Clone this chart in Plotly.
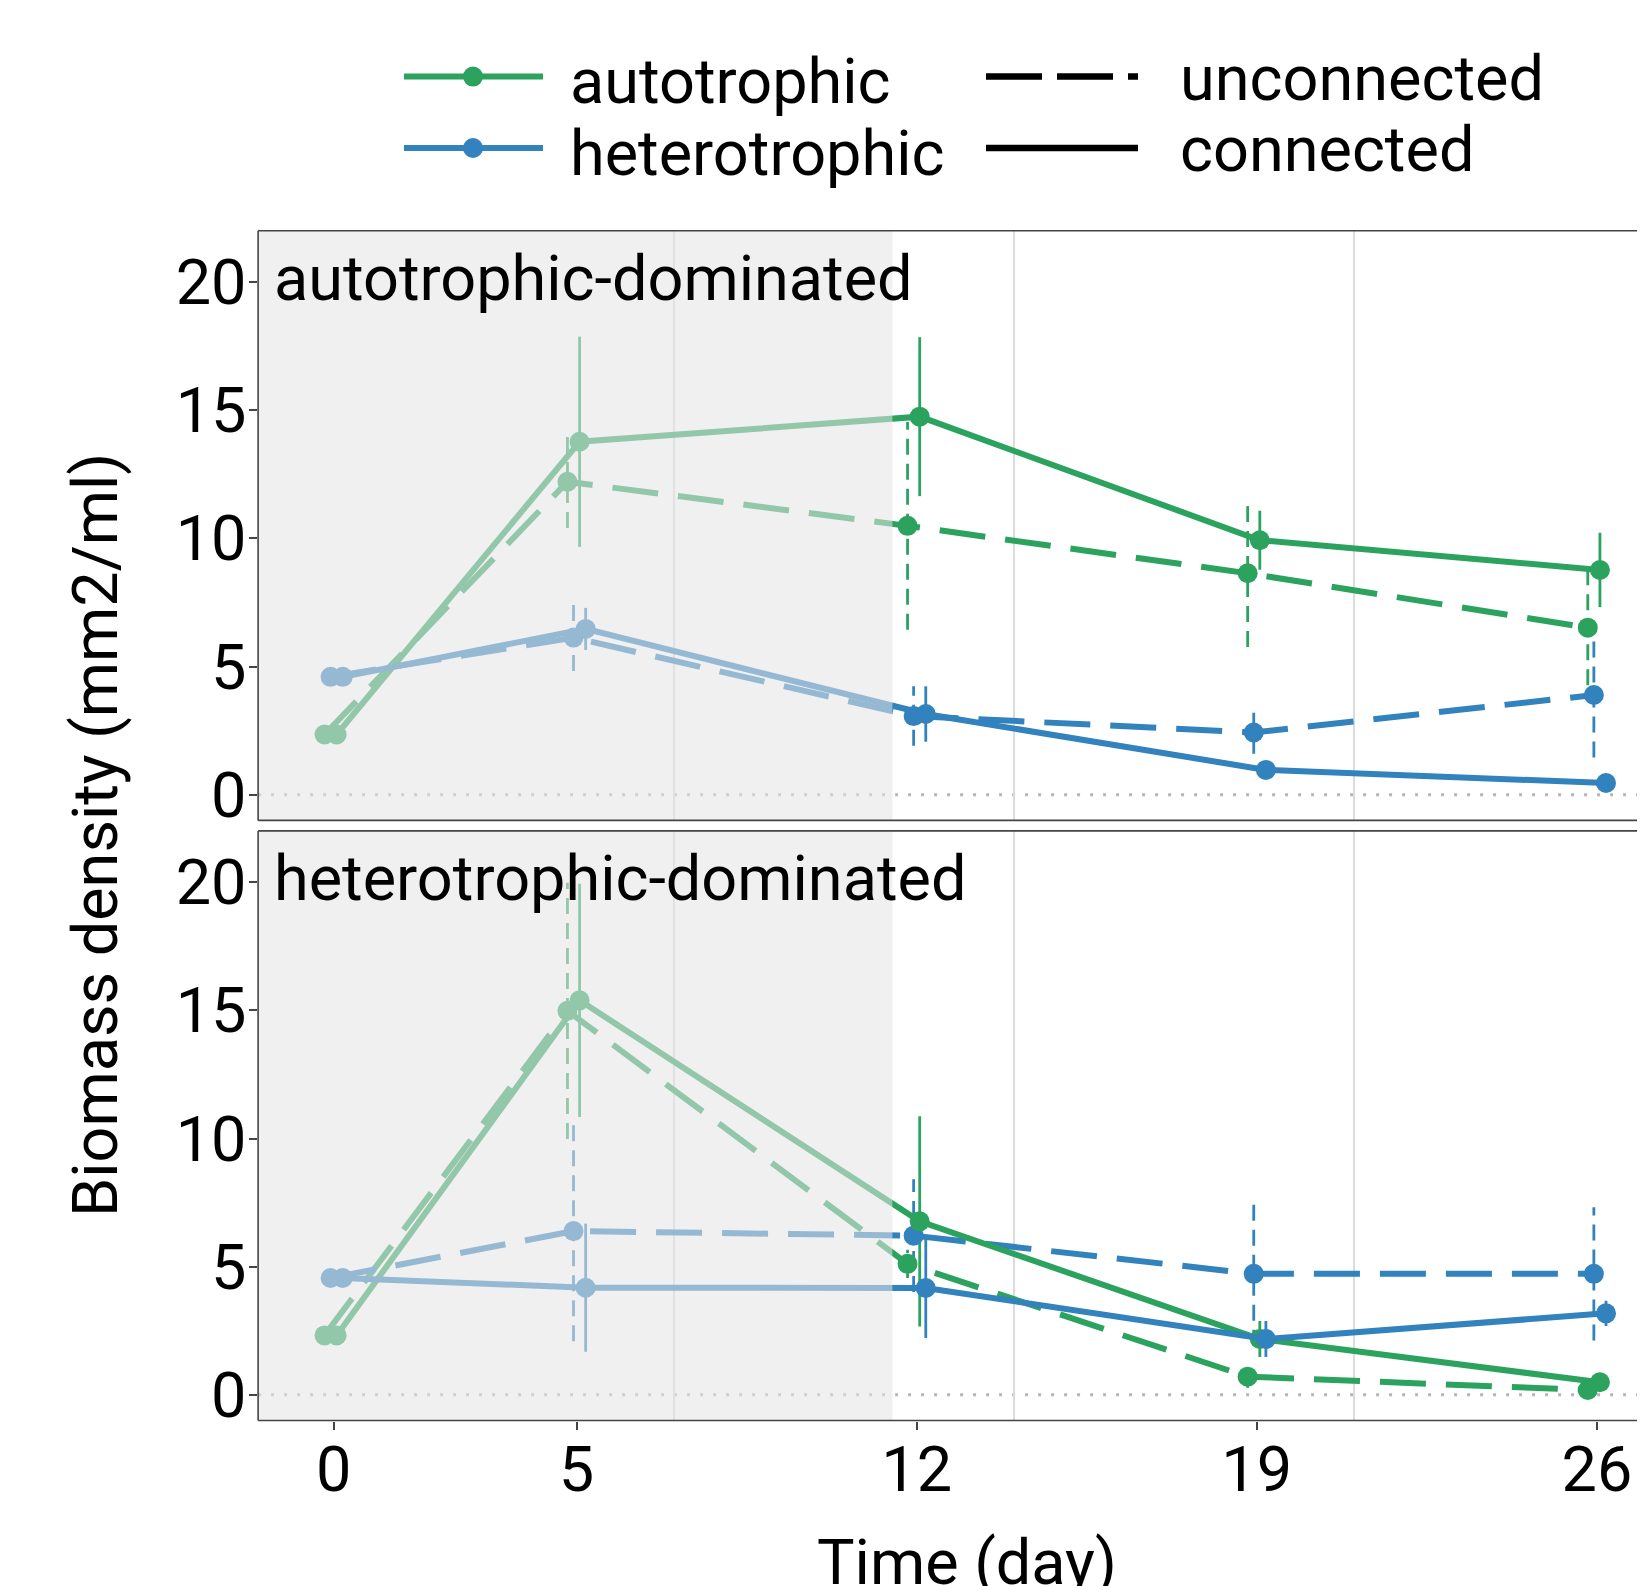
import plotly.graph_objects as go

# browser body margin is 8px, so the figure is sized to fit the window
PAGE_W, PAGE_H = 1645, 1586
BODY = 8
W, H = PAGE_W - BODY, PAGE_H - BODY

# ---------------- data ----------------
DAYS = [0, 5, 12, 19, 26]
X_TICKS = [0, 5, 12, 19, 26]
WEEK_LINES = [7, 14, 21]
Y_TICKS = [0, 5, 10, 15, 20]
SHADE_END = 11.5
PANELS = ["autotrophic-dominated", "heterotrophic-dominated"]

# autotrophic-dominated panel (mean, error half-width)
ad_auto_unconn = [2.35, 12.21, 10.49, 8.64, 6.52]
ad_auto_unconn_err = [0, 1.8, 4.05, 2.88, 2.25]
ad_het_unconn = [4.6, 6.13, 3.07, 2.43, 3.89]
ad_het_unconn_err = [0, 1.3, 1.16, 0.83, 2.44]
ad_auto_conn = [2.35, 13.77, 14.75, 9.93, 8.77]
ad_auto_conn_err = [0, 4.1, 3.1, 1.15, 1.45]
ad_het_conn = [4.6, 6.47, 3.15, 0.97, 0.46]
ad_het_conn_err = [0, 0.82, 1.08, 0.15, 0.1]

# heterotrophic-dominated panel
hd_auto_unconn = [2.32, 14.98, 5.11, 0.71, 0.19]
hd_auto_unconn_err = [0, 5.0, 0.55, 0.43, 0.15]
hd_het_unconn = [4.56, 6.39, 6.21, 4.72, 4.72]
hd_het_unconn_err = [0, 4.3, 2.2, 2.8, 2.6]
hd_auto_conn = [2.32, 15.39, 6.77, 2.18, 0.49]
hd_auto_conn_err = [0, 4.55, 4.1, 0.7, 0.1]
hd_het_conn = [4.56, 4.18, 4.17, 2.18, 3.18]
hd_het_conn_err = [0, 2.5, 1.95, 0.7, 0.49]

GROUPS = [("autotrophic", "unconnected"), ("heterotrophic", "unconnected"),
          ("autotrophic", "connected"), ("heterotrophic", "connected")]
PANEL_DATA = [
    [(ad_auto_unconn, ad_auto_unconn_err), (ad_het_unconn, ad_het_unconn_err),
     (ad_auto_conn, ad_auto_conn_err), (ad_het_conn, ad_het_conn_err)],
    [(hd_auto_unconn, hd_auto_unconn_err), (hd_het_unconn, hd_het_unconn_err),
     (hd_auto_conn, hd_auto_conn_err), (hd_het_conn, hd_het_conn_err)],
]

# ---------------- style ----------------
COLORS = {"autotrophic": "#2CA25F", "heterotrophic": "#3182BD"}
LINE_DASH = {"unconnected": "46px,20px", "connected": "solid"}
ERR_DASH = {"unconnected": "16px,9px", "connected": "solid"}
DODGE = 0.5
FONT = "Roboto"
FS = 63
X_RANGE = [-1.554, 26.99]
Y_RANGE = [-1.0, 22.0]


def X(px):  # page pixel -> paper fraction
    return (px - BODY) / W


def Y(py):
    return 1 - (py - BODY) / H


panel_px = [(230.8, 820.4), (830.9, 1420.5)]
x_dom = [X(258.1), 1.0]

fig = go.Figure()

for p, rows in enumerate(PANEL_DATA):
    xa = "x" if p == 0 else "x2"
    ya = "y" if p == 0 else "y2"
    for g, ((kind, conn), (mean, err)) in enumerate(zip(GROUPS, rows)):
        off = (g - (len(GROUPS) - 1) / 2) * DODGE / len(GROUPS)
        xs = [d + off for d in DAYS]
        col = COLORS[kind]
        ex, ey = [], []
        for xi, m, e in zip(xs, mean, err):
            if e > 0:
                ex += [xi, xi, None]
                ey += [m - e, m + e, None]
        fig.add_trace(go.Scatter(x=ex, y=ey, mode="lines", xaxis=xa, yaxis=ya,
                                 line=dict(color=col, width=2.8, dash=ERR_DASH[conn]),
                                 showlegend=False, hoverinfo="skip"))
    for g, ((kind, conn), (mean, err)) in enumerate(zip(GROUPS, rows)):
        off = (g - (len(GROUPS) - 1) / 2) * DODGE / len(GROUPS)
        xs = [d + off for d in DAYS]
        col = COLORS[kind]
        fig.add_trace(go.Scatter(x=xs, y=mean, mode="lines+markers", xaxis=xa, yaxis=ya,
                                 line=dict(color=col, width=6, dash=LINE_DASH[conn]),
                                 marker=dict(color=col, size=20),
                                 name=f"{kind} {conn}", showlegend=False))

shapes = []
for p in range(2):
    xa = "x" if p == 0 else "x2"
    ya = "y" if p == 0 else "y2"
    shapes.append(dict(type="line", xref=f"{xa} domain", yref=ya, x0=0, x1=1, y0=0, y1=0,
                       line=dict(color="#B5B5B5", width=3, dash="3px,10px"), layer="below"))
for p in range(2):
    xa = "x" if p == 0 else "x2"
    ya = "y" if p == 0 else "y2"
    shapes.append(dict(type="rect", xref=xa, yref=f"{ya} domain", x0=X_RANGE[0], x1=SHADE_END,
                       y0=0, y1=1, fillcolor="rgba(228,228,228,0.56)", line=dict(width=0),
                       layer="above"))
BORDER = dict(color="#444444", width=1.6)
for (t, b) in panel_px:
    for (x0, x1, y0, y1) in [(x_dom[0], 1.02, Y(t), Y(t)), (x_dom[0], 1.02, Y(b), Y(b)),
                             (x_dom[0], x_dom[0], Y(b), Y(t))]:
        shapes.append(dict(type="line", xref="paper", yref="paper", x0=x0, x1=x1,
                           y0=y0, y1=y1, line=BORDER, layer="above"))

# manual legend keys
LEG_ROWS = [76.6, 148.0]
kinds = ["autotrophic", "heterotrophic"]
conns = ["unconnected", "connected"]
for i, k in enumerate(kinds):
    yy = Y(LEG_ROWS[i])
    shapes.append(dict(type="line", xref="paper", yref="paper", x0=X(404), x1=X(543),
                       y0=yy, y1=yy, line=dict(color=COLORS[k], width=6)))
    shapes.append(dict(type="circle", xref="paper", yref="paper", x0=X(473 - 10), x1=X(473 + 10),
                       y0=Y(LEG_ROWS[i] + 10), y1=Y(LEG_ROWS[i] - 10),
                       fillcolor=COLORS[k], line=dict(width=0)))
for i, c in enumerate(conns):
    yy = Y(LEG_ROWS[i])
    shapes.append(dict(type="line", xref="paper", yref="paper", x0=X(986), x1=X(1138),
                       y0=yy, y1=yy, line=dict(color="black", width=6.5,
                                               dash="56px,15px" if c == "unconnected" else "solid")))

annotations = []
for i, k in enumerate(kinds):
    annotations.append(dict(text=k, xref="paper", yref="paper", x=X(568), y=Y(LEG_ROWS[i] + 5),
                            xanchor="left", yanchor="middle", showarrow=False,
                            font=dict(family=FONT, size=FS, color="black")))
for i, c in enumerate(conns):
    annotations.append(dict(text=c, xref="paper", yref="paper", x=X(1178), y=Y(LEG_ROWS[i] + 2),
                            xanchor="left", yanchor="middle", showarrow=False,
                            font=dict(family=FONT, size=FS, color="black")))
for p, name in enumerate(PANELS):
    top = panel_px[p][0]
    annotations.append(dict(text=name, xref="paper", yref="paper", x=X(272), y=Y(top + 9),
                            xanchor="left", yanchor="top", showarrow=False,
                            font=dict(family=FONT, size=FS, color="black")))
annotations.append(dict(text="Time (day)", xref="paper", yref="paper", x=X(967), y=Y(1524),
                        xanchor="center", yanchor="top", showarrow=False,
                        font=dict(family=FONT, size=FS, color="black")))
annotations.append(dict(text="Biomass density (mm2/ml)", xref="paper", yref="paper",
                        x=X(95), y=Y(835), xanchor="center", yanchor="middle", textangle=-90,
                        showarrow=False, font=dict(family=FONT, size=FS, color="black")))

xcommon = dict(range=X_RANGE, domain=x_dom, tickmode="array", tickvals=X_TICKS,
               showgrid=False, zeroline=False, showline=False, automargin=False,
               minor=dict(tickmode="array", tickvals=WEEK_LINES, showgrid=True,
                          gridcolor="#DCDCDC", gridwidth=1.6, ticks=""),
               tickfont=dict(family=FONT, size=FS, color="black"),
               ticklen=8, tickwidth=1.6, tickcolor="#444444",
               ticklabelstandoff=-14)
ycommon = dict(range=Y_RANGE, tickmode="array", tickvals=Y_TICKS, showgrid=False,
               zeroline=False, showline=False, automargin=False,
               tickfont=dict(family=FONT, size=FS, color="black"),
               ticks="outside", ticklen=8, tickwidth=1.6, tickcolor="#444444",
               ticklabelstandoff=-10)

fig.update_layout(
    width=W, height=H,
    margin=dict(l=0, r=0, t=0, b=0, pad=0),
    paper_bgcolor="white", plot_bgcolor="white",
    showlegend=False,
    xaxis=dict(anchor="y", showticklabels=False, ticks="", **xcommon),
    yaxis=dict(anchor="x", domain=[Y(panel_px[0][1]), Y(panel_px[0][0])], **ycommon),
    xaxis2=dict(anchor="y2", matches="x", ticks="outside", **xcommon),
    yaxis2=dict(anchor="x2", domain=[Y(panel_px[1][1]), Y(panel_px[1][0])], **ycommon),
    shapes=shapes,
    annotations=annotations,
    font=dict(family=FONT, size=FS, color="black"),
)

fig.write_html("out.html")
